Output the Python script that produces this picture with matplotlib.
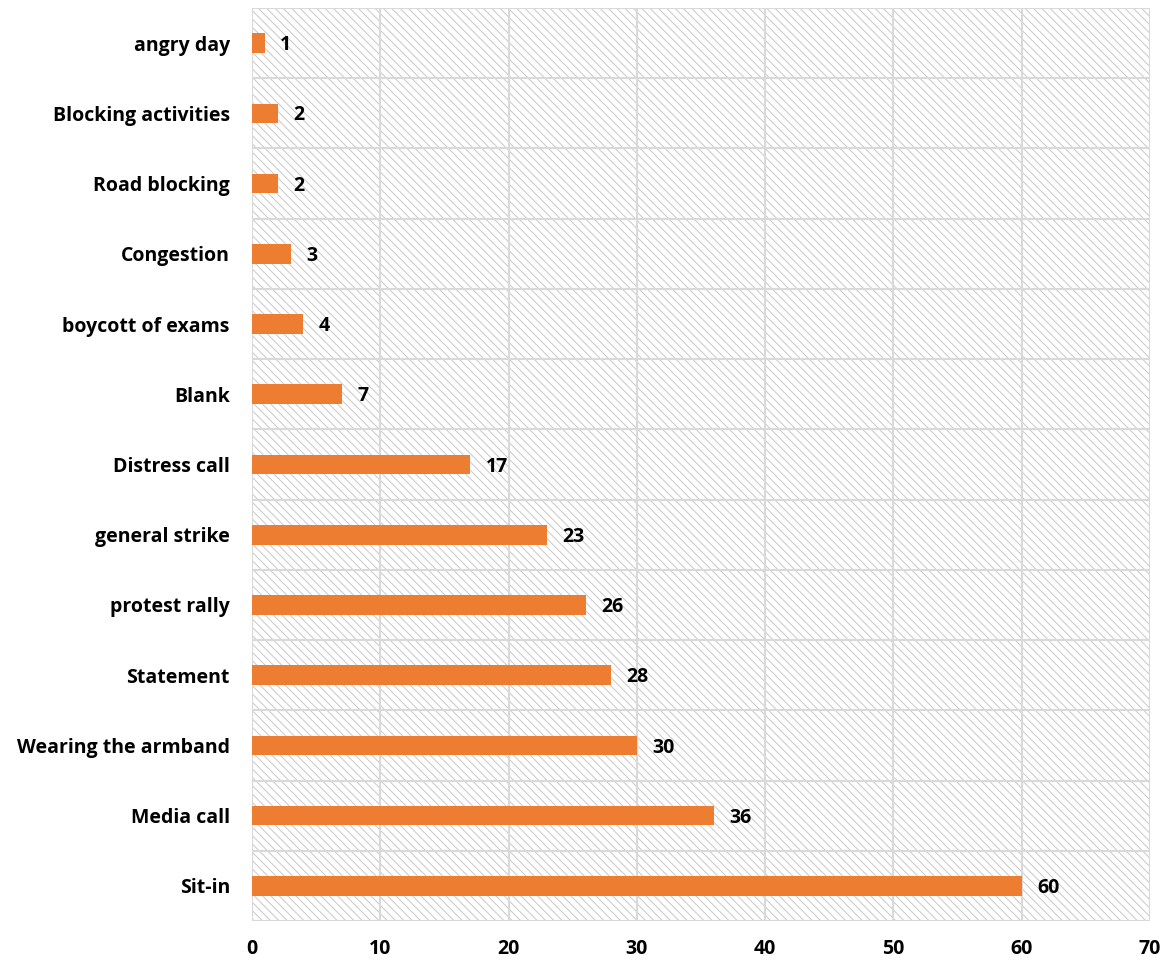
from matplotlib import pyplot as plt
from matplotlib.patches import Rectangle

cats = ['Sit-in', 'Media call', 'Wearing the armband', 'Statement', 'protest rally',
        'general strike', 'Distress call', 'Blank', 'boycott of exams', 'Congestion',
        'Road blocking', 'Blocking activities', 'angry day']
vals = [60, 36, 30, 28, 26, 23, 17, 7, 4, 3, 2, 2, 1]
xticks = [0, 10, 20, 30, 40, 50, 60, 70]

plt.rcParams['font.family'] = ['Open Sans', 'DejaVu Sans']
plt.rcParams['hatch.linewidth'] = 0.7
plt.rcParams['hatch.color'] = '#c8c8c8'

fig = plt.figure(figsize=(11.68, 9.65), dpi=100)
ax = fig.add_axes([0.2158, 0.0456, 0.7688, 0.9461])

# hatched background
bg = Rectangle((0, 0), 1, 1, transform=ax.transAxes, facecolor='white',
               edgecolor='#c8c8c8', hatch='\\\\\\\\', linewidth=0, zorder=0)
ax.add_patch(bg)

y = range(len(cats))
ax.barh(y, vals, height=0.28, color='#ed7d31', zorder=3)
for i, v in enumerate(vals):
    ax.text(v + 1.2, i - 0.03, str(v), va='center', ha='left', fontsize=14,
            fontweight='bold', zorder=4)

ax.set_xlim(0, 70)
ax.set_ylim(-0.5, len(cats) - 0.5)
ax.set_xticks(xticks)
ax.set_yticks(list(y))
ax.set_yticklabels(cats, fontsize=14, fontweight='bold')
for lab in ax.get_xticklabels():
    lab.set_fontsize(14)
    lab.set_fontweight('bold')
ax.tick_params(length=0)
ax.tick_params(axis='x', pad=13)
ax.tick_params(axis='y', pad=16)

for xv in xticks:
    ax.axvline(xv, color='#d9d9d9', linewidth=1.5, zorder=1)
for k in range(len(cats) + 1):
    ax.axhline(k - 0.5, color='#d9d9d9', linewidth=1.5, zorder=1)
for s in ax.spines.values():
    s.set_visible(False)

plt.savefig('out.png', dpi=100)
